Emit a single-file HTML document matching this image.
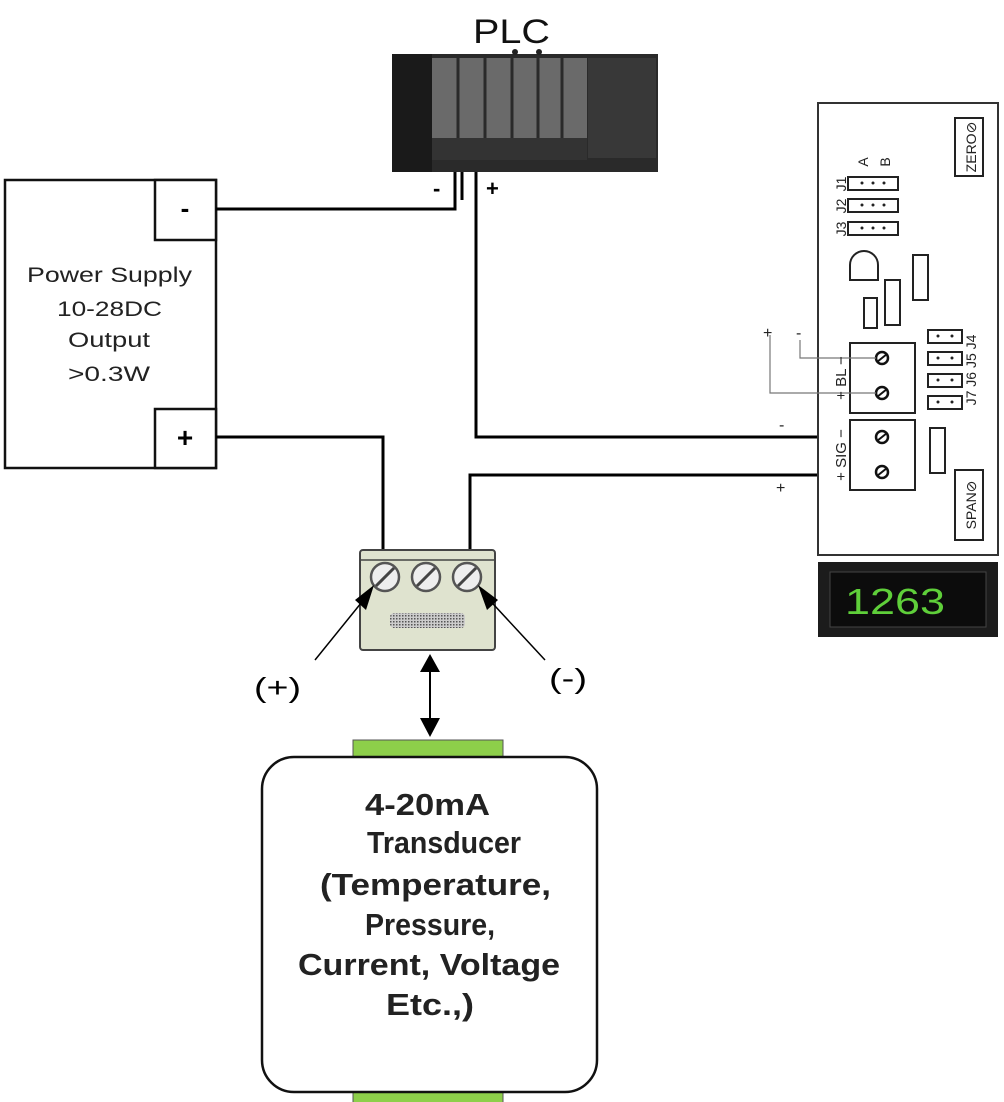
<!DOCTYPE html>
<html><head><meta charset="utf-8"><style>
html,body{margin:0;padding:0;background:#fff;width:1004px;height:1102px;overflow:hidden}
svg{display:block}
text{font-family:"Liberation Sans",sans-serif}
</style></head><body>
<svg width="1004" height="1102" viewBox="0 0 1004 1102" xmlns="http://www.w3.org/2000/svg">
<defs>
<pattern id="dots" width="3" height="3" patternUnits="userSpaceOnUse"><rect width="3" height="3" fill="#ccc"/><rect width="1.5" height="1.5" fill="#555"/></pattern>
</defs>
<!-- PLC -->
<text x="473" y="43" font-size="34" textLength="77" lengthAdjust="spacingAndGlyphs" fill="#111">PLC</text>
<rect x="392" y="54" width="266" height="118" fill="#2a2a2a"/>
<rect x="392" y="54" width="40" height="118" fill="#1a1a1a"/>
<rect x="432" y="58" width="155" height="80" fill="#6a6a6a"/>
<g stroke="#2a2a2a" stroke-width="3"><line x1="458" y1="58" x2="458" y2="165"/><line x1="485" y1="58" x2="485" y2="165"/><line x1="512" y1="58" x2="512" y2="165"/><line x1="538" y1="58" x2="538" y2="165"/><line x1="562" y1="58" x2="562" y2="165"/></g>
<rect x="588" y="58" width="68" height="100" fill="#383838"/>
<rect x="432" y="138" width="155" height="22" fill="#333"/>
<circle cx="515" cy="52" r="3" fill="#222"/><circle cx="539" cy="52" r="3" fill="#222"/>
<text x="433" y="196" font-size="22" font-weight="bold">-</text>
<text x="486" y="196" font-size="22" font-weight="bold">+</text>
<!-- Power supply -->
<rect x="5" y="180" width="211" height="288" fill="#fff" stroke="#111" stroke-width="2.5"/>
<rect x="155" y="180" width="61" height="60" fill="#fff" stroke="#111" stroke-width="2.5"/>
<rect x="155" y="409" width="61" height="59" fill="#fff" stroke="#111" stroke-width="2.5"/>
<text x="185" y="217" font-size="26" font-weight="bold" text-anchor="middle">-</text>
<text x="185" y="447" font-size="28" font-weight="bold" text-anchor="middle">+</text>
<g font-size="21" fill="#222">
<text x="27" y="282" textLength="165" lengthAdjust="spacingAndGlyphs">Power Supply</text>
<text x="57" y="316" textLength="105" lengthAdjust="spacingAndGlyphs">10-28DC</text>
<text x="68" y="347" textLength="82" lengthAdjust="spacingAndGlyphs">Output</text>
<text x="68" y="381" textLength="82" lengthAdjust="spacingAndGlyphs">&gt;0.3W</text></g>
<!-- wires -->
<g fill="none" stroke="#000" stroke-width="3">
<polyline points="216,209 455,209 455,172"/>
<line x1="462" y1="172" x2="462" y2="200"/>
<polyline points="476,172 476,437 882,437"/>
<polyline points="216,437 383,437 383,550"/>
<polyline points="470,550 470,475 882,475"/>
</g>
<!-- Meter -->
<rect x="818" y="103" width="180" height="452" fill="#fff" stroke="#333" stroke-width="2"/>
<g fill="none" stroke="#222" stroke-width="2">
<rect x="955" y="118" width="28" height="58"/>
<rect x="955" y="470" width="28" height="70"/>
<rect x="848" y="177" width="50" height="13"/><rect x="848" y="199" width="50" height="13"/><rect x="848" y="222" width="50" height="13"/>
<path d="M850,280 L850,265 A14,14 0 0 1 878,265 L878,280 Z"/>
<rect x="913" y="255" width="15" height="45"/>
<rect x="885" y="280" width="15" height="45"/>
<rect x="864" y="298" width="13" height="30"/>
<rect x="850" y="343" width="65" height="70"/>
<rect x="850" y="420" width="65" height="70"/>
<rect x="928" y="330" width="34" height="13"/><rect x="928" y="352" width="34" height="13"/><rect x="928" y="374" width="34" height="13"/><rect x="928" y="396" width="34" height="13"/>
<rect x="930" y="428" width="15" height="45"/>
</g>
<g fill="#222"><circle cx="862" cy="183" r="1.5"/><circle cx="873" cy="183" r="1.5"/><circle cx="884" cy="183" r="1.5"/><circle cx="862" cy="205" r="1.5"/><circle cx="873" cy="205" r="1.5"/><circle cx="884" cy="205" r="1.5"/><circle cx="862" cy="228" r="1.5"/><circle cx="873" cy="228" r="1.5"/><circle cx="884" cy="228" r="1.5"/>
<circle cx="938" cy="336" r="1.5"/><circle cx="952" cy="336" r="1.5"/><circle cx="938" cy="358" r="1.5"/><circle cx="952" cy="358" r="1.5"/><circle cx="938" cy="380" r="1.5"/><circle cx="952" cy="380" r="1.5"/><circle cx="938" cy="402" r="1.5"/><circle cx="952" cy="402" r="1.5"/></g>
<g fill="#fff" stroke="#111" stroke-width="2.5"><circle cx="882" cy="358" r="6"/><circle cx="882" cy="393" r="6"/><circle cx="882" cy="437" r="6"/><circle cx="882" cy="472" r="6"/></g>
<g stroke="#111" stroke-width="2"><line x1="877" y1="362" x2="887" y2="354"/><line x1="877" y1="397" x2="887" y2="389"/><line x1="877" y1="441" x2="887" y2="433"/><line x1="877" y1="476" x2="887" y2="468"/></g>
<g fill="none" stroke="#777" stroke-width="1.2"><polyline points="800,340 800,358 876,358"/><polyline points="770,335 770,393 876,393"/></g>
<g font-size="16" fill="#222">
<text x="763" y="338">+</text><text x="796" y="338">-</text>
<text x="779" y="430">-</text><text x="776" y="493">+</text>
<text transform="translate(976,147) rotate(-90)" text-anchor="middle" font-size="14">ZERO⊘</text>
<text transform="translate(976,505) rotate(-90)" text-anchor="middle" font-size="14">SPAN⊘</text>
<text transform="translate(846,184) rotate(-90)" text-anchor="middle" font-size="14">J1</text>
<text transform="translate(846,206) rotate(-90)" text-anchor="middle" font-size="14">J2</text>
<text transform="translate(846,229) rotate(-90)" text-anchor="middle" font-size="14">J3</text>
<text transform="translate(868,162) rotate(-90)" text-anchor="middle" font-size="14">A</text>
<text transform="translate(890,162) rotate(-90)" text-anchor="middle" font-size="14">B</text>
<text transform="translate(846,378) rotate(-90)" text-anchor="middle" font-size="15">+  BL  −</text>
<text transform="translate(846,455) rotate(-90)" text-anchor="middle" font-size="15">+ SIG −</text>
<text transform="translate(976,370) rotate(-90)" text-anchor="middle" font-size="14">J7 J6 J5 J4</text>
</g>
<rect x="818" y="562" width="180" height="75" fill="#1c1c1c"/>
<rect x="830" y="572" width="156" height="55" fill="#0c0c0c" stroke="#444"/>
<text x="895" y="614" font-size="36" fill="#5fcf3a" text-anchor="middle" font-family="Liberation Mono" textLength="100" lengthAdjust="spacingAndGlyphs">1263</text>
<!-- Terminal block -->
<rect x="360" y="550" width="135" height="100" rx="3" fill="#dfe3cf" stroke="#444" stroke-width="2"/>
<line x1="360" y1="560" x2="495" y2="560" stroke="#444" stroke-width="1.5"/>
<g fill="#eee" stroke="#555" stroke-width="2.5"><circle cx="385" cy="577" r="14"/><circle cx="426" cy="577" r="14"/><circle cx="467" cy="577" r="14"/></g>
<g stroke="#444" stroke-width="3"><line x1="376" y1="586" x2="394" y2="568"/><line x1="417" y1="586" x2="435" y2="568"/><line x1="458" y1="586" x2="476" y2="568"/></g>
<rect x="390" y="613" width="75" height="15" rx="4" fill="url(#dots)"/>
<g stroke="#000" stroke-width="1.5"><line x1="315" y1="660" x2="370" y2="592"/><line x1="545" y1="660" x2="482" y2="592"/></g>
<path d="M355,600 L374,585 L366,610 Z" fill="#000"/><path d="M478,585 L498,600 L487,610 Z" fill="#000"/>
<text x="254" y="697" font-size="28" textLength="47" lengthAdjust="spacingAndGlyphs">(+)</text>
<text x="549" y="688" font-size="28" textLength="38" lengthAdjust="spacingAndGlyphs">(-)</text>
<line x1="430" y1="662" x2="430" y2="728" stroke="#000" stroke-width="2"/>
<path d="M420,672 L430,654 L440,672 Z M420,718 L430,737 L440,718 Z" fill="#000"/>
<!-- Transducer -->
<rect x="353" y="740" width="150" height="18" fill="#8dcf4a" stroke="#555"/>
<rect x="353" y="1090" width="150" height="14" fill="#8dcf4a" stroke="#555"/>
<rect x="262" y="757" width="335" height="335" rx="32" fill="#fff" stroke="#111" stroke-width="2.5"/>
<g font-size="31" font-weight="bold" fill="#222" lengthAdjust="spacingAndGlyphs">
<text x="365" y="815" textLength="125" lengthAdjust="spacingAndGlyphs">4-20mA</text>
<text x="367" y="853" textLength="154" lengthAdjust="spacingAndGlyphs">Transducer</text>
<text x="320" y="895" textLength="231" lengthAdjust="spacingAndGlyphs">(Temperature,</text>
<text x="365" y="935" textLength="130" lengthAdjust="spacingAndGlyphs">Pressure,</text>
<text x="298" y="975" textLength="262" lengthAdjust="spacingAndGlyphs">Current, Voltage</text>
<text x="386" y="1015" textLength="88" lengthAdjust="spacingAndGlyphs">Etc.,)</text></g>
</svg>
</body></html>
